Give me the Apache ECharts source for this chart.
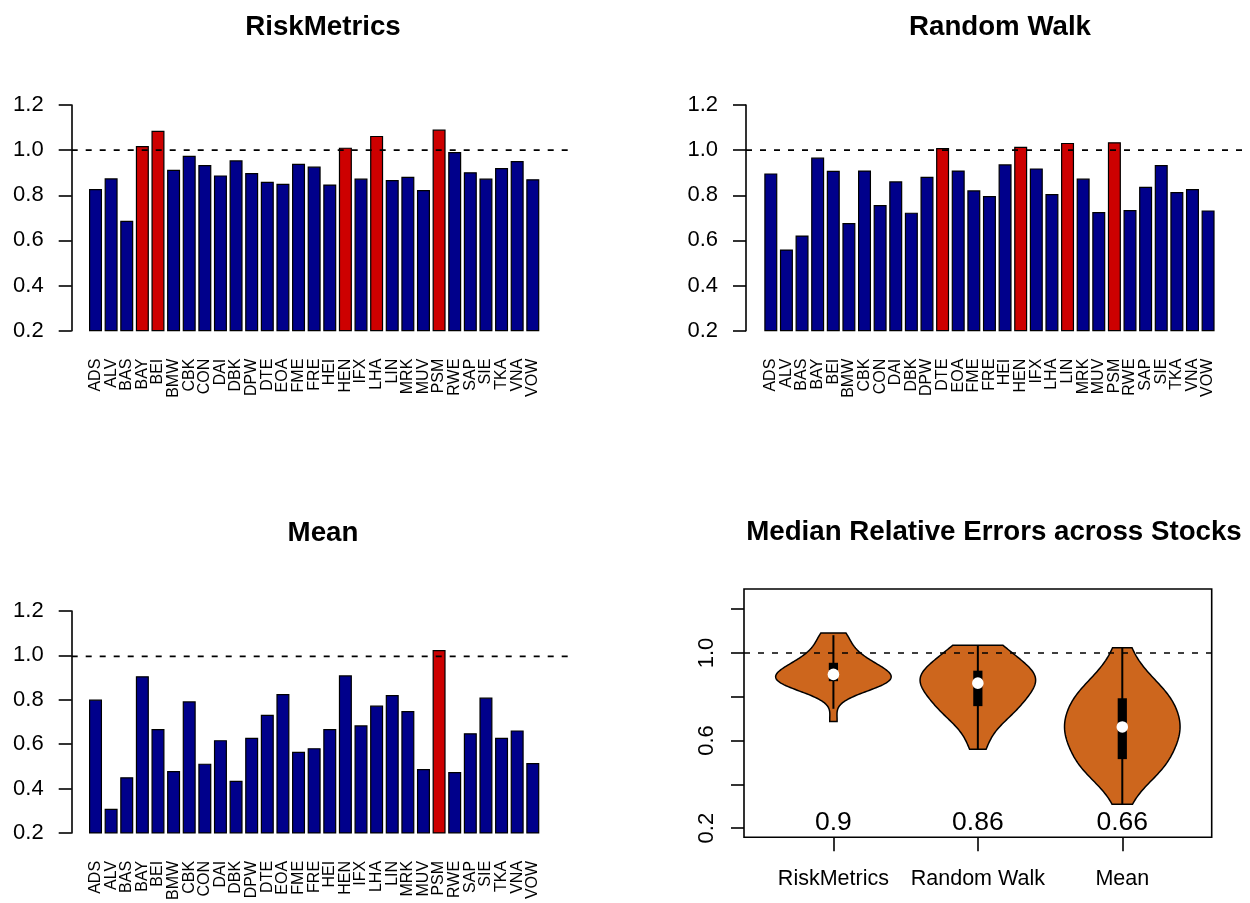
<!DOCTYPE html>
<html><head><meta charset="utf-8">
<script src="https://cdn.jsdelivr.net/npm/echarts@6/dist/echarts.min.js"></script>
<style>html,body{margin:0;padding:0;background:#fff}#c{width:1250px;height:903px}</style>
</head><body><div id="c"></div>
<script>
// ---------- data ----------
const categories = ['ADS','ALV','BAS','BAY','BEI','BMW','CBK','CON','DAI','DBK','DPW','DTE','EOA','FME','FRE','HEI','HEN','IFX','LHA','LIN','MRK','MUV','PSM','RWE','SAP','SIE','TKA','VNA','VOW'];
const riskMetrics = [0.828,0.875,0.687,1.018,1.086,0.913,0.975,0.934,0.888,0.955,0.899,0.860,0.851,0.940,0.927,0.848,1.011,0.874,1.063,0.868,0.882,0.823,1.091,0.992,0.902,0.874,0.921,0.952,0.871];
const randomWalk = [0.897,0.560,0.622,0.967,0.909,0.677,0.910,0.757,0.862,0.723,0.882,1.009,0.910,0.822,0.797,0.937,1.015,0.919,0.806,1.032,0.874,0.726,1.035,0.735,0.838,0.934,0.814,0.828,0.733];
const meanErrors = [0.801,0.309,0.451,0.906,0.668,0.479,0.793,0.512,0.618,0.435,0.629,0.732,0.826,0.566,0.582,0.668,0.910,0.685,0.774,0.821,0.749,0.488,1.024,0.474,0.649,0.810,0.629,0.662,0.515];
const barTicks = [0.2,0.4,0.6,0.8,1.0,1.2];
const violinTicks = [0.2,0.4,0.6,0.8,1.0,1.2];
const violinTickLabels = [0.2,0.6,1.0];
const violinNames = ['RiskMetrics','Random Walk','Mean'];
const panelTitles = ['RiskMetrics','Random Walk','Mean','Median Relative Errors across Stocks'];
const refLevel = 1.0;
const medianLabelLevel = 0.2;

// ---------- styles ----------
const NAVY = '#00008B', RED = '#CD0000', VIOLIN = '#CD661D';
const FONT = 'Liberation Sans, Arial, Helvetica, sans-serif';

// ---------- helpers ----------
function quantile(arr, p) {
  const s = arr.slice().sort((a,b)=>a-b);
  const h = (s.length - 1) * p, lo = Math.floor(h), hi = Math.ceil(h);
  return s[lo] + (h - lo) * (s[hi] - s[lo]);
}
function sd(arr) {
  const m = arr.reduce((a,b)=>a+b,0)/arr.length;
  return Math.sqrt(arr.reduce((a,b)=>a+(b-m)*(b-m),0)/(arr.length-1));
}
function violinStats(data) {
  const n = data.length;
  const mn = Math.min(...data), mx = Math.max(...data);
  const q1 = quantile(data,0.25), q3 = quantile(data,0.75), med = quantile(data,0.5);
  const iqr = q3 - q1;
  const upper = Math.min(q3 + 1.5*iqr, mx), lower = Math.max(q1 - 1.5*iqr, mn);
  const h = sd(data) * Math.pow(4/(3*n), 1/5);
  const ys = [], dens = [];
  const G = 100;
  for (let j = 0; j < G; j++) {
    const y = mn + (mx - mn) * j / (G - 1);
    let f = 0;
    for (const x of data) { const u = (y - x)/h; f += Math.exp(-0.5*u*u); }
    ys.push(y); dens.push(f / (n*h*Math.sqrt(2*Math.PI)));
  }
  const dmax = Math.max(...dens);
  const hw = dens.map(d => d * 0.4 / dmax);
  return {ys, hw, q1, q3, med, upper, lower};
}
const violins = [riskMetrics, randomWalk, meanErrors].map(violinStats);
const fmt1 = v => Number(v).toFixed(1);

// ---------- layout ----------
const barPanels = [
  {data: riskMetrics, barLeft: 87.7, axisX: 71.7, top: 105, h: 225.7, right: 572},
  {data: randomWalk,  barLeft: 763.0, axisX: 746, top: 105, h: 225.7, right: 1260},
  {data: meanErrors,  barLeft: 87.7, axisX: 71.7, top: 611, h: 226.7, right: 572}
];
const BAR_GRID_W = 452.9;

const grid = [], xAxis = [], yAxis = [], series = [];
barPanels.forEach((p, k) => {
  const gBar = grid.length;
  grid.push({left: p.barLeft, top: p.top, width: BAR_GRID_W, height: p.h, containLabel: false});
  xAxis.push({type:'category', gridIndex: gBar, data: categories,
    axisLine:{show:false}, axisTick:{show:false},
    axisLabel:{rotate:90, interval:0, margin:28, fontSize:16, color:'#000', fontFamily: FONT}});
  yAxis.push({type:'value', gridIndex: gBar, min:0.2, max:1.2, interval:0.2, offset: p.barLeft - p.axisX,
    axisLine:{show:true, lineStyle:{color:'#000', width:1.6}},
    axisTick:{show:true, length:13, lineStyle:{color:'#000', width:1.6}},
    axisLabel:{formatter: fmt1, fontSize:22, color:'#000', margin:28, fontFamily: FONT},
    splitLine:{show:false}});
  series.push({type:'bar', xAxisIndex: gBar, yAxisIndex: gBar, barWidth:'83.33%',
    data: p.data.map(v => ({value: v, itemStyle:{color: v > refLevel ? RED : NAVY}})),
    itemStyle:{borderColor:'#000', borderWidth:1.2}, silent:true, z:2});
  const gLine = grid.length;
  grid.push({left: p.axisX, top: p.top, width: p.right - p.axisX, height: p.h});
  xAxis.push({type:'value', gridIndex: gLine, min:0, max:1, show:false});
  yAxis.push({type:'value', gridIndex: gLine, min:0.2, max:1.2, show:false});
  series.push({type:'line', xAxisIndex: gLine, yAxisIndex: gLine, data:[[0,refLevel],[1,refLevel]],
    symbol:'none', silent:true, z:5,
    lineStyle:{color:'#000', width:1.6, type:[6,8]}});
});

// violin panel
const gV = grid.length;
grid.push({left:744, top:589, width:467.7, height:248.3, show:true, borderColor:'#000', borderWidth:1.6, backgroundColor:'transparent'});
xAxis.push({type:'value', gridIndex:gV, min:0.381, max:3.619,
  axisLine:{show:false}, splitLine:{show:false},
  axisTick:{show:true, customValues:[1,2,3], length:14, lineStyle:{color:'#000', width:1.6}},
  axisLabel:{customValues:[1,2,3], formatter: v => violinNames[Math.round(v)-1], fontSize:21.5, color:'#000', margin:31, fontFamily: FONT}});
yAxis.push({type:'value', gridIndex:gV, min:0.158, max:1.292,
  axisLine:{show:false}, splitLine:{show:false},
  axisTick:{show:true, customValues: violinTicks, length:13, lineStyle:{color:'#000', width:1.6}},
  axisLabel:{customValues: violinTickLabels, rotate:90, formatter: fmt1, fontSize:22, color:'#000', margin:26, fontFamily: FONT}});
series.push({type:'custom', xAxisIndex:gV, yAxisIndex:gV, silent:true, z:3,
  data: violins.map((v,i) => [i+1, v.med]),
  encode:{x:0, y:1},
  renderItem: function(params, api) {
    const v = violins[params.dataIndex];
    const cx = api.value(0);
    const rightSide = v.ys.map((y,j) => api.coord([cx + v.hw[j], y]));
    const leftSide = v.ys.map((y,j) => api.coord([cx - v.hw[j], y])).reverse();
    const pts = rightSide.concat(leftSide);
    const up = api.coord([cx, v.upper]), lo = api.coord([cx, v.lower]);
    const q1 = api.coord([cx, v.q1]), q3 = api.coord([cx, v.q3]);
    const md = api.coord([cx, v.med]);
    const lab = api.coord([cx, medianLabelLevel]);
    const bw = 4.6;
    const medText = String(parseFloat(v.med.toFixed(2)));
    return {type:'group', children:[
      {type:'polygon', shape:{points: pts}, style:{fill: VIOLIN, stroke:'#000', lineWidth:1.5}},
      {type:'line', shape:{x1:up[0], y1:up[1], x2:lo[0], y2:lo[1]}, style:{stroke:'#000', lineWidth:2}},
      {type:'rect', shape:{x: q3[0]-bw, y: q3[1], width: 2*bw, height: q1[1]-q3[1]}, style:{fill:'#000'}},
      {type:'circle', shape:{cx: md[0], cy: md[1], r:5.8}, style:{fill:'#fff'}},
      {type:'text', x: lab[0], y: lab[1] - 5, style:{text: medText, fill:'#000', font: '26.5px ' + FONT, textAlign:'center', textVerticalAlign:'middle'}}
    ]};
  },
  markLine:{silent:true, symbol:'none', label:{show:false}, z:6,
    lineStyle:{color:'#000', width:1.6, type:[6,8]}, data:[{yAxis: refLevel}]}
});

const titleCenters = [[323, 27],[1000, 27],[323, 533],[994, 532]];
const graphic = panelTitles.map((t,i) => ({type:'text', x: titleCenters[i][0], y: titleCenters[i][1],
  style:{text: t, font: 'bold 27.7px ' + FONT, fill:'#000', textAlign:'center', textVerticalAlign:'middle'}}));

const chart = echarts.init(document.getElementById('c'), null, {renderer:'canvas'});
chart.setOption({animation:false, backgroundColor:'#fff', grid, xAxis, yAxis, series, graphic});
</script></body></html>
